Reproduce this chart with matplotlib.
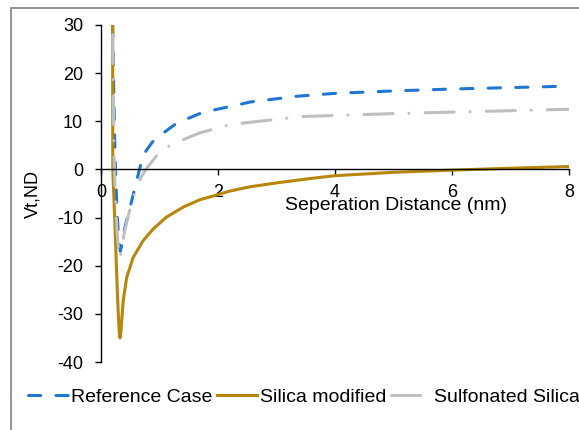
import matplotlib
matplotlib.use("Agg")
import matplotlib.pyplot as plt
from matplotlib.patches import Rectangle

plt.rcParams['font.family'] = ['Liberation Sans', 'DejaVu Sans']
plt.rcParams['axes.unicode_minus'] = False

# Reference Case (blue dashed)
ref_x = [0.20, 0.22, 0.24, 0.26, 0.28, 0.30, 0.33, 0.36, 0.40, 0.43, 0.48, 0.52,
         0.61, 0.64, 0.72, 0.88, 1.07, 1.26, 1.49, 1.69, 1.95, 2.18, 2.55, 3.35,
         4.00, 5.00, 6.00, 7.00, 8.00]
ref_y = [30.0, 15.0, 3.0, -4.0, -10.0, -14.0, -17.0, -15.5, -12.5, -11.0, -8.5, -6.8,
         -2.3, -0.9, 3.0, 5.7, 7.6, 9.3, 10.6, 11.6, 12.4, 13.0, 14.0, 15.2,
         15.8, 16.3, 16.7, 17.0, 17.3]

# Silica modified (gold solid)
mod_x = [0.198, 0.202, 0.24, 0.28, 0.30, 0.31, 0.318, 0.325, 0.333, 0.345, 0.36, 0.38,
         0.44, 0.55, 0.72, 0.89, 1.12, 1.41, 1.69, 1.98, 2.20, 2.55, 3.00, 3.57,
         4.00, 5.00, 6.00, 7.00, 8.00]
mod_y = [45.0, 0.0, -12.0, -25.5, -31.0, -33.3, -34.5, -35.0, -34.6, -33.0, -30.5, -27.3,
         -22.4, -18.3, -14.8, -12.4, -9.9, -7.8, -6.3, -5.3, -4.5, -3.6, -2.8, -1.9,
         -1.3, -0.6, -0.15, 0.25, 0.6]

# Sulfonated Silica (gray dash-dot)
sul_x = [0.20, 0.21, 0.22, 0.24, 0.27, 0.30, 0.325, 0.35, 0.40, 0.46, 0.52, 0.58,
         0.68, 0.78, 0.83, 1.00, 1.21, 1.45, 1.69, 2.20, 2.70, 3.45, 4.00, 5.00,
         6.00, 7.00, 8.00]
sul_y = [28.0, 16.0, 4.0, -4.0, -12.0, -17.0, -18.5, -17.0, -13.0, -10.0, -7.0, -4.8,
         -1.7, 0.2, 1.0, 3.6, 5.2, 6.4, 7.6, 9.3, 10.0, 11.0, 11.2, 11.6,
         11.9, 12.2, 12.5]

xticks = [0, 2, 4, 6, 8]
yticks = [-40, -30, -20, -10, 0, 10, 20, 30]

fig = plt.figure(figsize=(5.79, 4.30), dpi=100)
ax = fig.add_axes([0.1744, 0.1581, 0.8083, 0.7838])

ax.plot(ref_x, ref_y, color='#1f77d2', lw=2.2, dashes=(4, 5),
        dash_capstyle='round', label='Reference Case')
ax.plot(mod_x, mod_y, color='#b8860b', lw=2.2, label='Silica modified',
        solid_joinstyle='round')
ax.plot(sul_x, sul_y, color='#bfbfbf', lw=2.2, dashes=(9.5, 5.2, 0.01, 5.3),
        dash_capstyle='round', label='Sulfonated Silica')

ax.set_xlim(0, 8)
ax.set_ylim(-40, 30)
ax.set_xticks(xticks)
ax.set_yticks(yticks)

ax.spines['top'].set_visible(False)
ax.spines['right'].set_visible(False)
ax.spines['bottom'].set_position(('data', 0))
ax.spines['bottom'].set_linewidth(1.0)
ax.spines['left'].set_linewidth(1.0)

ax.tick_params(axis='both', direction='out', length=4.3, width=1.0,
               labelsize=13, color='black')
ax.tick_params(axis='y', pad=8.5)
ax.tick_params(axis='x', pad=6)

ax.set_xlabel('Seperation Distance (nm)', fontsize=14)
ax.xaxis.set_label_coords(0.631, 0.49)
ax.set_ylabel('Vt,ND', fontsize=13)
ax.yaxis.set_label_coords(-0.128, 0.50)

ax.legend(loc='center', bbox_to_anchor=(0.525, 0.077),
          bbox_transform=fig.transFigure, ncol=3, frameon=False,
          fontsize=14, handlelength=2.06, handletextpad=0.15,
          columnspacing=0.25, borderpad=0)

# outer chart border
fig.patches.append(Rectangle((11 / 579, -0.1), 1.2, 1.1 - 8 / 430,
                             transform=fig.transFigure, fill=False,
                             edgecolor='#808080', lw=1.2))

fig.savefig('out.png', dpi=100)
